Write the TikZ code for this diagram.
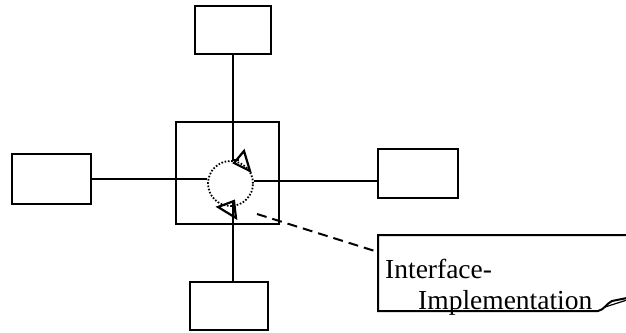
\documentclass[tikz,border=0pt]{standalone}
\usepackage{fontspec}
\setmainfont{Liberation Serif}
\begin{document}
\begin{tikzpicture}[x=1pt,y=-1pt,
  box/.style={draw,line width=2pt,inner sep=0pt,outer sep=0pt},
  conn/.style={line width=2pt},
  tip/.style={line width=2.2pt,line join=miter},
  notetext/.style={anchor=base west,inner sep=0pt,font=\fontsize{27.5}{30}\selectfont}]
\useasboundingbox (0,0) rectangle (626,332);
% boxes
\node[box,minimum width=76pt,minimum height=48pt] (top) at (233,30) {};
\node[box,minimum width=79pt,minimum height=50pt] (left) at (51.5,179) {};
\node[box,minimum width=80pt,minimum height=49pt] (right) at (418,173.5) {};
\node[box,minimum width=78pt,minimum height=48pt] (bot) at (229,306) {};
\node[box,minimum width=103pt,minimum height=102pt] (ctr) at (227.5,173) {};
\node[circle,draw,line width=1.8pt,dash pattern=on 1.6pt off 1.7pt,minimum size=45pt,inner sep=0pt] (circ) at (230.5,183.5) {};
% arrow tips (clockwise)
\coordinate (a1) at (250,171);
\coordinate (a2) at (244,151);
\coordinate (a3) at (234,163);
\coordinate (c1) at (218,207);
\coordinate (c2) at (234,201);
\coordinate (c3) at (236,218);
% connectors
\draw[conn] (top.south) -- (top.south |- circ.north) -- ++(6,0);
\draw[tip] (a2) -- (a1) -- (a3) -- cycle;
\draw[conn] (left.east) -- (left.east -| circ.west);
\draw[conn] (circ.6) -- (circ.6 -| right.west);
\draw[conn] (top.south |- c2) -- (top.south |- bot.north);
\draw[tip] (c1) -- (c2) -- (c3) -- cycle;
% note
\coordinate (nA) at (378,252);
\coordinate (ds) at (257,214);
\draw[line width=2pt,dash pattern=on 10pt off 6pt] (ds) -- (nA);
\node[notetext] (t1) at (385,278) {Interface-};
\node[notetext] (t2) at (418,309) {Implementation};
\draw[line width=2pt] (627,235) -- (378,235) -- (378,311) -- (598,311)
  .. controls (604,310) and (607,303) .. (612,301) -- (627,298);
\draw[line width=1.2pt] (605,307) -- (627,300);
\end{tikzpicture}
\end{document}
